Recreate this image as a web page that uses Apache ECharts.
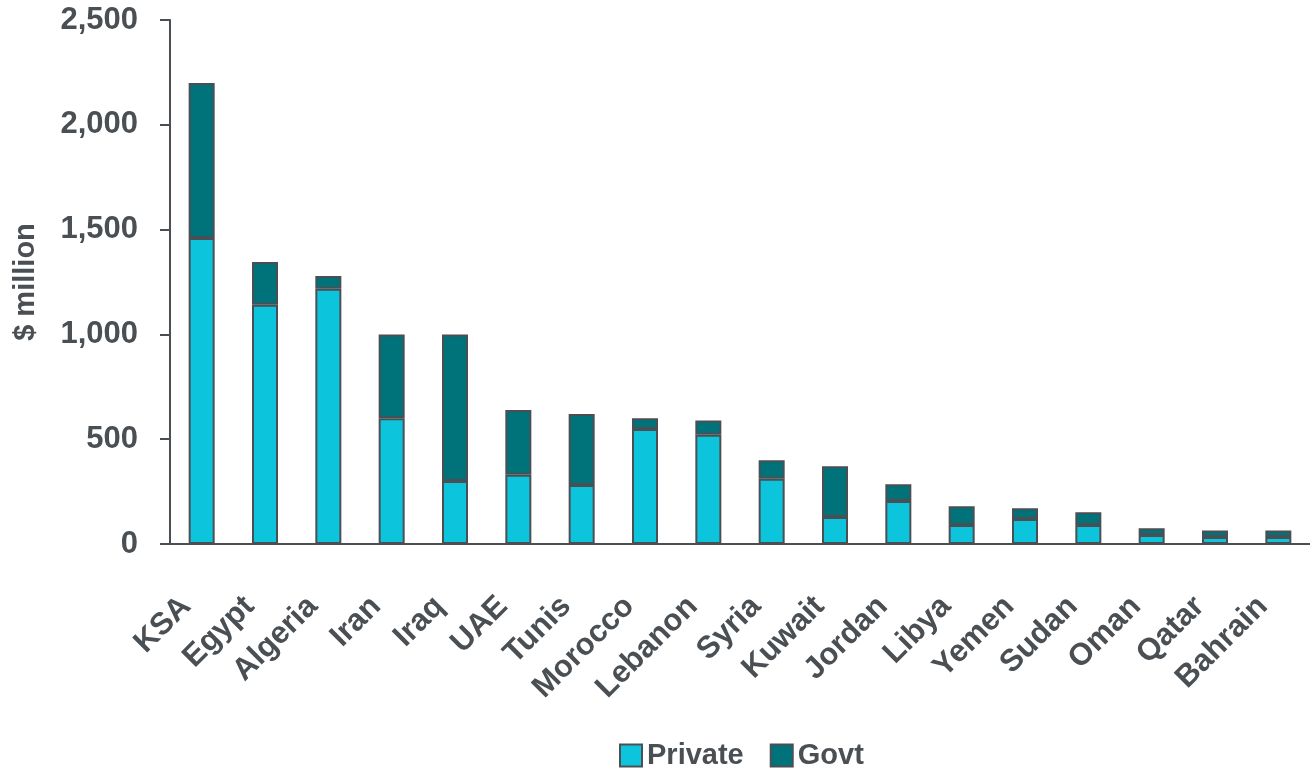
<!DOCTYPE html>
<html>
<head>
<meta charset="utf-8">
<script src="https://cdn.jsdelivr.net/npm/echarts@6/dist/echarts.min.js"></script>
<style>
html,body{margin:0;padding:0;background:#fff;}
#chart{width:1310px;height:773px;}
</style>
</head>
<body>
<div id="chart"></div>
<script>
var countries = ['KSA', 'Egypt', 'Algeria', 'Iran', 'Iraq', 'UAE', 'Tunis', 'Morocco', 'Lebanon',
  'Syria', 'Kuwait', 'Jordan', 'Libya', 'Yemen', 'Sudan', 'Oman', 'Qatar', 'Bahrain'];
var privateVals = [1460, 1142, 1218, 600, 300, 330, 282, 549, 521, 311, 129, 205, 91, 119, 91, 43, 33, 33];
var govtVals = [740, 203, 61, 400, 700, 309, 338, 51, 68, 89, 242, 80, 89, 52, 60, 32, 32, 32];
var yTicks = [0, 500, 1000, 1500, 2000, 2500];

var txt = '#4a4f54';
var font = 'Arial, "Liberation Sans", sans-serif';

var myChart = echarts.init(document.getElementById('chart'));

var option = {
  animation: false,
  grid: {left: 170, top: 20, width: 1150, height: 524},
  legend: {
    data: ['Private', 'Govt'],
    left: 614,
    top: 736,
    icon: 'rect',
    itemWidth: 22,
    itemHeight: 22,
    itemGap: 26,
    textStyle: {color: txt, fontSize: 29, fontWeight: 'bold', fontFamily: font}
  },
  xAxis: {
    type: 'category',
    data: countries,
    axisLine: {lineStyle: {color: txt, width: 2}},
    axisTick: {length: 10, lineStyle: {color: txt, width: 2}},
    axisLabel: {
      rotate: 45,
      margin: 42,
      interval: 0,
      padding: [0, 22, 0, 0],
      color: txt,
      fontSize: 31,
      fontWeight: 'bold',
      fontFamily: font
    }
  },
  yAxis: {
    type: 'value',
    min: yTicks[0],
    max: yTicks[yTicks.length - 1],
    interval: 500,
    name: '$ million',
    nameLocation: 'middle',
    nameGap: 130,
    nameTextStyle: {color: txt, fontSize: 29, fontWeight: 'bold', fontFamily: font},
    splitLine: {show: false},
    axisLine: {show: true, lineStyle: {color: txt, width: 2}},
    axisTick: {show: true, length: 10, lineStyle: {color: txt, width: 2}},
    axisLabel: {
      margin: 32,
      color: txt,
      fontSize: 31,
      fontWeight: 'bold',
      fontFamily: font,
      formatter: function (v) { return v.toLocaleString('en-US'); }
    }
  },
  series: [
    {
      name: 'Private',
      type: 'bar',
      stack: 'total',
      data: privateVals,
      barWidth: 26,
      itemStyle: {color: '#0cc5dd', borderColor: txt, borderWidth: 2}
    },
    {
      name: 'Govt',
      type: 'bar',
      stack: 'total',
      data: govtVals,
      barWidth: 26,
      itemStyle: {color: '#00737a', borderColor: txt, borderWidth: 2}
    }
  ]
};

myChart.setOption(option);
</script>
</body>
</html>
